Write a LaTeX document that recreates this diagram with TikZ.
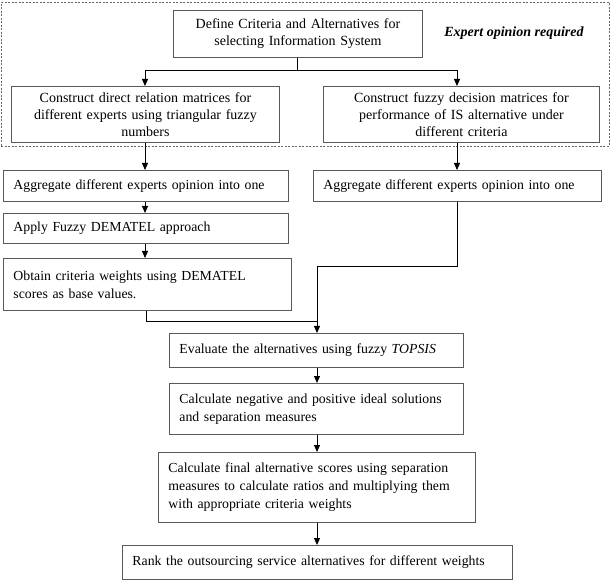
\documentclass[tikz,border=0pt]{standalone}
\usepackage{fontspec}
\setmainfont{Liberation Serif}
\usetikzlibrary{arrows.meta}
\begin{document}
\begin{tikzpicture}[x=1pt,y=-1pt,
  bx/.style={draw=black!65, line width=0.9pt, inner xsep=10pt, inner ysep=0pt, anchor=north west,
    font=\fontsize{13.8}{18}\selectfont, align=left},
  cbx/.style={bx, align=center, inner xsep=4pt, font=\fontsize{14}{17}\selectfont},
  conn/.style={line width=1pt, black},
  arr/.style={conn, -{Triangle[length=7pt,width=6pt]}},
  frame/.style={draw=black!60, dash pattern=on 2pt off 1.5pt, line width=0.8pt, anchor=north west, inner sep=0pt}]
\useasboundingbox (0,0) rectangle (611,580);
\node[frame, minimum width=608pt, minimum height=144pt] (grp) at (1,2) {};
\node[cbx, minimum width=249pt, text width=241pt, minimum height=47pt] (top) at (173,10)
  {\mbox{Define Criteria and Alternatives for}\\\mbox{selecting Information System}};
\node[font=\fontsize{14}{17}\selectfont\bfseries\itshape] (exp) at (514,33) {Expert opinion required};
\node[cbx, minimum width=268pt, text width=260pt, minimum height=56pt] (b2l) at (11,86)
  {\mbox{Construct direct relation matrices for}\\\mbox{different experts using triangular fuzzy}\\numbers};
\node[cbx, minimum width=276pt, text width=268pt, minimum height=56pt] (b2r) at (323,86)
  {\mbox{Construct fuzzy decision matrices for}\\\mbox{performance of IS alternative under}\\\mbox{different criteria}};
\node[bx, minimum width=285pt, text width=265pt, minimum height=31pt] (agl) at (3,170)
  {\mbox{Aggregate different experts opinion into one}};
\node[bx, minimum width=288pt, text width=268pt, minimum height=31pt] (agr) at (313,170)
  {\mbox{Aggregate different experts opinion into one}};
\node[bx, minimum width=285pt, text width=265pt, minimum height=30pt] (app) at (3,213)
  {\mbox{Apply Fuzzy DEMATEL approach}};
\node[bx, minimum width=288pt, text width=268pt, minimum height=52pt] (obt) at (3,258)
  {\mbox{Obtain criteria weights using DEMATEL}\\\mbox{scores as base values.}};
\node[bx, minimum width=294pt, text width=274pt, minimum height=34pt] (ev) at (169,333)
  {\mbox{Evaluate the alternatives using fuzzy \textit{TOPSIS}}};
\node[bx, minimum width=294pt, text width=274pt, minimum height=51pt] (cn) at (169,383)
  {\mbox{Calculate negative and positive ideal solutions}\\\mbox{and separation measures}};
\node[bx, minimum width=317pt, text width=297pt, minimum height=70pt] (cf) at (158,452)
  {\mbox{Calculate final alternative scores using separation}\\\mbox{measures to calculate ratios and multiplying them}\\\mbox{with appropriate criteria weights}};
\node[bx, minimum width=390pt, text width=370pt, minimum height=34pt] (rk) at (122,545)
  {\mbox{Rank the outsourcing service alternatives for different weights}};
\coordinate (br) at (297,71);
\coordinate (bl) at (145,71);
\coordinate (brr) at (457,71);
\coordinate (c1) at (457,267);
\coordinate (c2) at (317,267);
\coordinate (c3) at (146,322);
\coordinate (c4) at (317,322);
\draw[conn] (top.south -| br) -- (br);
\draw[arr] (br) -- (bl) -- (b2l.north -| bl);
\draw[arr] (br) -- (brr) -- (b2r.north -| brr);
\draw[arr] (b2l.south -| bl) -- (agl.north -| bl);
\draw[arr] (b2r.south -| brr) -- (agr.north -| brr);
\draw[arr] (agl.south -| bl) -- (app.north -| bl);
\draw[arr] (app.south -| bl) -- (obt.north -| bl);
\draw[arr] (agr.south -| c1) -- (c1) -- (c2) -- (ev.north -| c2);
\draw[conn] (obt.south -| c3) -- (c3) -- (c4);
\draw[arr] (ev.south -| c2) -- (cn.north -| c2);
\draw[arr] (cn.south -| c2) -- (cf.north -| c2);
\draw[arr] (cf.south -| c2) -- (rk.north -| c2);
\end{tikzpicture}
\end{document}
